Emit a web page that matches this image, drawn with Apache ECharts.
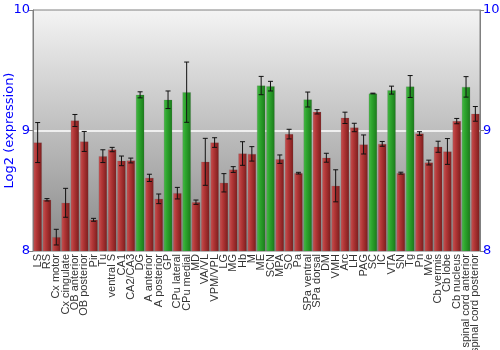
<!DOCTYPE html>
<html>
<head>
<meta charset="utf-8">
<script src="https://cdn.jsdelivr.net/npm/echarts@6/dist/echarts.min.js"></script>
<style>
  html, body { margin: 0; padding: 0; background: #ffffff; }
  #chart { width: 500px; height: 350px; }
</style>
</head>
<body>
<div id="chart"></div>
<script>
// Brain regions along the x axis
const regions = [
  'LS', 'RS', 'Cx motor', 'Cx cingulate', 'OB anterior', 'OB posterior', 'Pir', 'Tu',
  'ventral S', 'CA1', 'CA2/CA3', 'DG', 'A anterior', 'A posterior', 'GP', 'CPu lateral',
  'CPu medial', 'MD', 'VA/VL', 'VPM/VPL', 'LG', 'MG', 'Hb', 'M', 'ME', 'SCN', 'MPA',
  'SO', 'Pa', 'SPa ventral', 'SPa dorsal', 'DM', 'VMH', 'Arc', 'LH', 'PAG', 'SC', 'IC',
  'VTA', 'SN', 'Tg', 'Pn', 'MVe', 'Cb vermis', 'Cb lobe', 'Cb nucleus',
  'spinal cord anterior', 'spinal cord posterior'
];

// Mean log2 expression per region
const expression = [
  8.90, 8.425, 8.115, 8.40, 9.083, 8.909, 8.259, 8.787,
  8.842, 8.748, 8.751, 9.296, 8.607, 8.433, 9.255, 8.480,
  9.318, 8.405, 8.740, 8.900, 8.566, 8.676, 8.809, 8.806, 9.373, 9.368, 8.762,
  8.970, 8.646, 9.257, 9.155, 8.774, 8.541, 9.105, 9.025, 8.884, 9.307, 8.889,
  9.335, 8.646, 9.365, 8.975, 8.734, 8.865, 8.826, 9.078,
  9.362, 9.138
];

// Standard error per region
const stdError = [
  0.166, 0.010, 0.065, 0.120, 0.050, 0.083, 0.012, 0.053,
  0.018, 0.040, 0.020, 0.025, 0.030, 0.040, 0.073, 0.048,
  0.250, 0.018, 0.195, 0.040, 0.076, 0.024, 0.098, 0.060, 0.076, 0.040, 0.035,
  0.040, 0.007, 0.062, 0.018, 0.037, 0.133, 0.047, 0.035, 0.079, 0.003, 0.020,
  0.033, 0.008, 0.091, 0.015, 0.020, 0.046, 0.107, 0.022,
  0.085, 0.061
];

// Regions highlighted in green
const highlighted = ['DG', 'GP', 'CPu medial', 'ME', 'SCN', 'SPa ventral', 'SC', 'VTA', 'Tg', 'spinal cord anterior'];

// Value axis ticks
const yTicks = [8, 9, 10];

const redFill = new echarts.graphic.LinearGradient(0, 0, 1, 0, [
  { offset: 0, color: '#c65454' },
  { offset: 0.35, color: '#b43838' },
  { offset: 1, color: '#7c1c1c' }
]);
const greenFill = new echarts.graphic.LinearGradient(0, 0, 1, 0, [
  { offset: 0, color: '#48b848' },
  { offset: 0.35, color: '#2ea62e' },
  { offset: 1, color: '#1a7a1a' }
]);

const barData = expression.map((v, i) => ({
  value: v,
  itemStyle: { color: highlighted.includes(regions[i]) ? greenFill : redFill }
}));

const errData = expression.map((v, i) => [i, v - stdError[i], v + stdError[i]]);

const yAxisCommon = {
  type: 'value',
  min: yTicks[0],
  max: yTicks[yTicks.length - 1],
  interval: 1,
  axisLine: { show: true, lineStyle: { color: '#808080' } },
  axisTick: { show: true, length: 4, lineStyle: { color: '#808080' } },
  axisLabel: { color: '#0000ff', fontSize: 13, fontFamily: 'DejaVu Sans', margin: 3 }
};

const chart = echarts.init(document.getElementById('chart'), null, { renderer: 'canvas' });
chart.setOption({
  animation: false,
  grid: {
    left: 33, right: 20, top: 10, bottom: 99,
    containLabel: false,
    outerBoundsMode: 'none',
    show: true,
    borderColor: '#808080',
    borderWidth: 1,
    backgroundColor: new echarts.graphic.LinearGradient(0, 0, 0, 1, [
      { offset: 0, color: '#f4f4f4' },
      { offset: 1, color: '#888888' }
    ])
  },
  xAxis: {
    type: 'category',
    data: regions,
    axisLine: { show: false },
    axisTick: { show: false },
    axisLabel: {
      interval: 0, rotate: 90, fontSize: 11, color: '#333',
      fontFamily: 'Liberation Sans', margin: 3
    }
  },
  yAxis: [
    Object.assign({}, yAxisCommon, {
      position: 'left',
      name: 'Log2 (expression)',
      nameLocation: 'middle',
      nameGap: 17,
      nameMoveOverlap: false,
      nameTextStyle: { color: '#0000ff', fontSize: 13, fontFamily: 'DejaVu Sans' },
      splitLine: { show: true, lineStyle: { color: ['transparent', '#ffffff', 'transparent'], width: 1.5 } }
    }),
    Object.assign({}, yAxisCommon, {
      position: 'right',
      splitLine: { show: false }
    })
  ],
  series: [
    {
      type: 'bar',
      data: barData,
      barCategoryGap: '10%',
      itemStyle: { borderColor: 'rgba(90,90,90,0.35)', borderWidth: 0.5 }
    },
    {
      type: 'custom',
      data: errData,
      z: 5,
      renderItem: function (params, api) {
        const x = api.value(0);
        const lo = api.coord([x, api.value(1)]);
        const hi = api.coord([x, api.value(2)]);
        const half = 2.5;
        const style = { stroke: '#111', lineWidth: 1 };
        return {
          type: 'group',
          children: [
            { type: 'line', shape: { x1: lo[0], y1: lo[1], x2: hi[0], y2: hi[1] }, style: style },
            { type: 'line', shape: { x1: lo[0] - half, y1: lo[1], x2: lo[0] + half, y2: lo[1] }, style: style },
            { type: 'line', shape: { x1: hi[0] - half, y1: hi[1], x2: hi[0] + half, y2: hi[1] }, style: style }
          ]
        };
      }
    }
  ]
});
</script>
</body>
</html>
